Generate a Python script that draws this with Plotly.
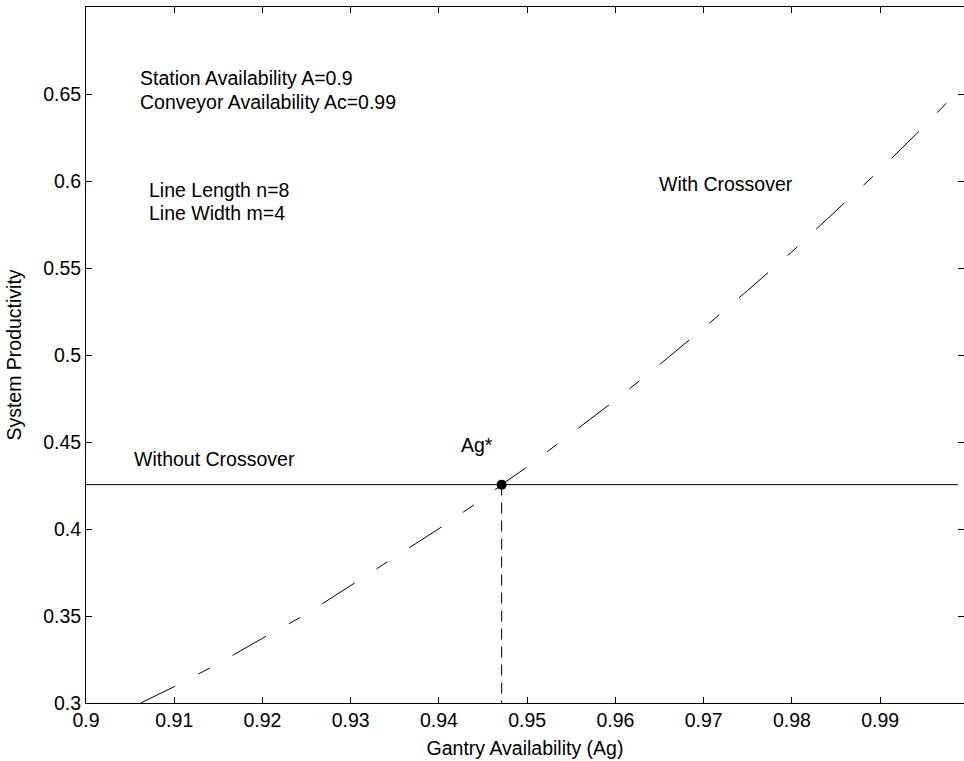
import plotly.graph_objects as go

# Data
gantry_availability = [0.9062, 0.910, 0.915, 0.920, 0.925, 0.930, 0.935, 0.940, 0.945,
                       0.9471, 0.950, 0.955, 0.960, 0.965, 0.970, 0.975, 0.980, 0.985,
                       0.990, 0.995, 0.9985]
productivity_with = [0.300, 0.3094, 0.3227, 0.3372, 0.3512, 0.3674, 0.3840, 0.4002, 0.4174,
                     0.4255, 0.4357, 0.4547, 0.4741, 0.4945, 0.5155, 0.5372, 0.5593, 0.5829,
                     0.6065, 0.6316, 0.6500]
without_x = [0.9, 0.9988]
productivity_without = [0.4255, 0.4255]
ag_star = 0.9471
ag_star_y = 0.4255
y_floor = 0.3

x_ticks = [0.9, 0.91, 0.92, 0.93, 0.94, 0.95, 0.96, 0.97, 0.98, 0.99]
x_tick_labels = ["0.9", "0.91", "0.92", "0.93", "0.94", "0.95", "0.96", "0.97", "0.98", "0.99"]
y_ticks = [0.3, 0.35, 0.4, 0.45, 0.5, 0.55, 0.6, 0.65]
y_tick_labels = ["0.3", "0.35", "0.4", "0.45", "0.5", "0.55", "0.6", "0.65"]

FONT = "Liberation Sans, Arial, Helvetica, sans-serif"
FS = 19.5

fig = go.Figure()
fig.add_trace(go.Scatter(x=gantry_availability, y=productivity_with, mode="lines",
                         line=dict(color="black", width=1, dash="38.5px,26px,13px,26px"),
                         showlegend=False, hoverinfo="skip"))
fig.add_trace(go.Scatter(x=without_x, y=productivity_without, mode="lines",
                         line=dict(color="black", width=1),
                         showlegend=False, hoverinfo="skip"))
fig.add_trace(go.Scatter(x=[ag_star, ag_star], y=[ag_star_y, y_floor], mode="lines",
                         line=dict(color="black", width=1, dash="11px,7px"),
                         showlegend=False, hoverinfo="skip"))
fig.add_trace(go.Scatter(x=[ag_star], y=[ag_star_y], mode="markers",
                         marker=dict(color="black", size=10),
                         showlegend=False, hoverinfo="skip"))

tf = dict(family=FONT, size=FS, color="black")
anns = [
    ("Station Availability A=0.9", 0.90586, 0.6592, "left"),
    ("Conveyor Availability Ac=0.99", 0.90586, 0.6454, "left"),
    ("Line Length n=8", 0.90688, 0.5948, "left"),
    ("Line Width m=4", 0.90688, 0.5816, "left"),
    ("With Crossover", 0.98035, 0.5983, "right"),
    ("Without Crossover", 0.90521, 0.4402, "left"),
    ("Ag*", 0.94431, 0.4483, "center"),
]
for text, ax, ay, anc in anns:
    fig.add_annotation(x=ax, y=ay, xref="x", yref="y", text=text, showarrow=False,
                       xanchor=anc, yanchor="middle", font=tf)

fig.update_layout(
    width=964, height=761,
    margin=dict(l=86, r=0, t=7, b=58),
    paper_bgcolor="white", plot_bgcolor="white",
    font=dict(family=FONT, size=FS, color="black"),
)
fig.update_xaxes(range=[0.9, 0.9995], tickvals=x_ticks, ticktext=x_tick_labels,
                 ticks="inside", ticklen=6, tickcolor="black", showgrid=False, zeroline=False,
                 showline=True, linecolor="black", linewidth=1, mirror="ticks",
                 tickfont=dict(family=FONT, size=FS, color="black"),
                 title=dict(text="Gantry Availability (Ag)", font=dict(family=FONT, size=FS, color="black"),
                            standoff=10))
fig.update_yaxes(range=[0.3, 0.7], tickvals=y_ticks, ticktext=y_tick_labels,
                 ticks="inside", ticklen=6, tickcolor="black", showgrid=False, zeroline=False,
                 showline=True, linecolor="black", linewidth=1, mirror="ticks",
                 tickfont=dict(family=FONT, size=FS, color="black"),
                 title=dict(text="System Productivity", font=dict(family=FONT, size=FS, color="black"),
                            standoff=16))

fig.write_html("out.html", config={"displayModeBar": False},
               post_script="document.body.style.margin='0px';")
